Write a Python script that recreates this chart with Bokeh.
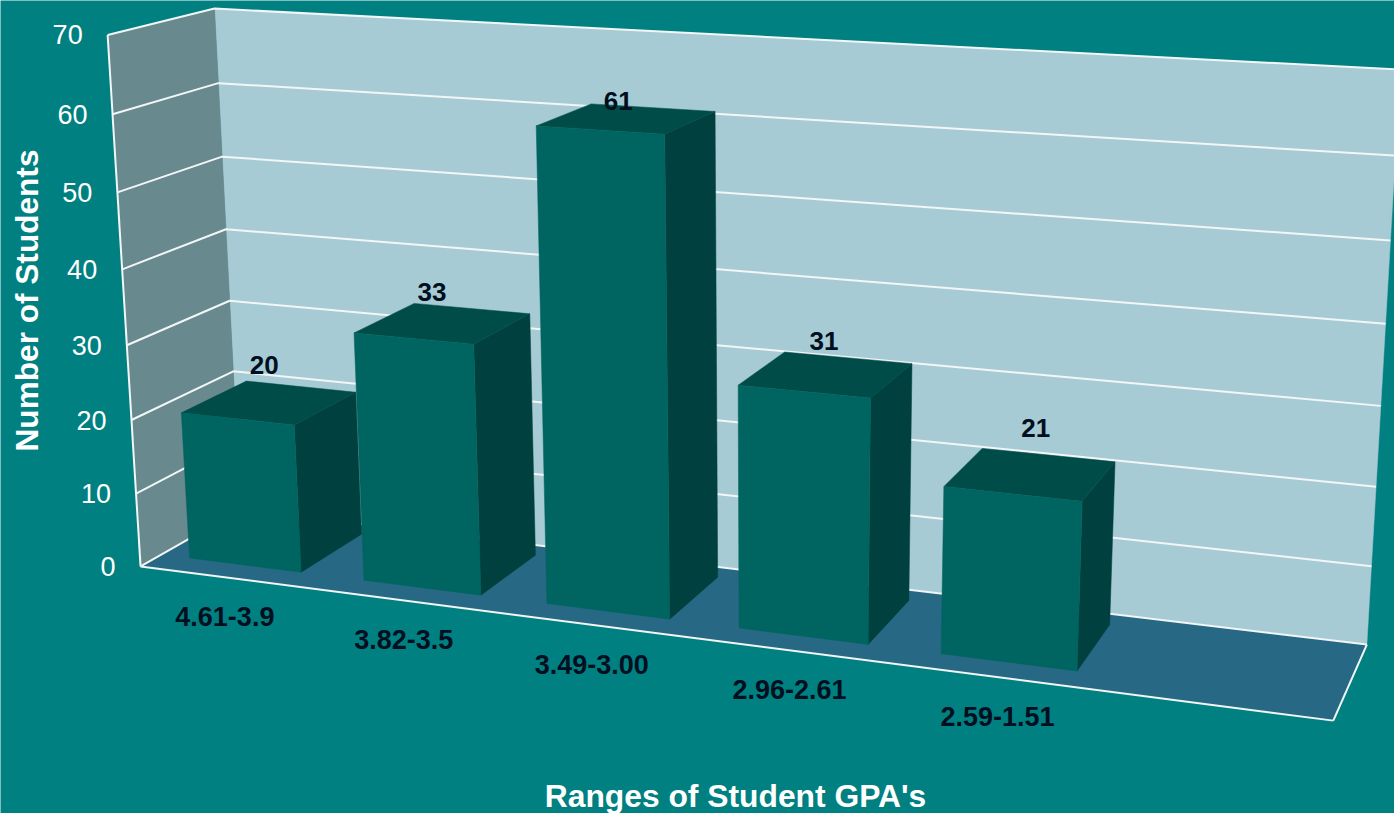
import numpy as np
from bokeh.plotting import figure
from bokeh.core.properties import value
from bokeh.embed import file_html
from bokeh.resources import INLINE

categories = ["4.61-3.9", "3.82-3.5", "3.49-3.00", "2.96-2.61", "2.59-1.51"]
students = [20, 33, 61, 31, 21]
y_ticks = [0, 10, 20, 30, 40, 50, 60, 70]
y_title = "Number of Students"
x_title = "Ranges of Student GPA's"

# layout: perspective calibration (u across, d depth, v/70 height) -> picture px
CAL = [((0, 0, 0), (140, 566)), ((1, 0, 0), (1333, 720)), ((1, 1, 0), (1366, 644)),
       ((0, 1, 0), (240, 510)), ((0, 0, 1), (107, 35)), ((0, 1, 1), (214, 8)),
       ((1, 1, 1), (1400, 69)), ((0, 0, 2/7), (131, 419)), ((0, 1, 2/7), (233, 370)),
       ((1, 1, 1/7), (1371, 566))]
rows = []
for (u, d, w), (x, y) in CAL:
    rows.append([u, d, w, 1, 0, 0, 0, 0, -x*u, -x*d, -x*w, -x])
    rows.append([0, 0, 0, 0, u, d, w, 1, -y*u, -y*d, -y*w, -y])
H = np.linalg.svd(np.array(rows, float))[2][-1].reshape(3, 4)

def proj(u, d, v):
    r = H @ np.array([u, d, v / 70.0, 1.0])
    return float(r[0] / r[2]), float(r[1] / r[2])

SLOTS = 6
BAR_W = 0.645
BAR_SHIFT = -0.012
D0, D1 = 0.20, 0.85
BG = "#008080"
DARK_TEXT = "#000F20"
VAL_NUDGE = [(-5, -39), (-11, -33), (-9, -19), (-3, -35), (4, -48)]

p = figure(width=1394, height=813, x_range=(0, 1394), y_range=(813, 0),
           output_backend="svg", toolbar_location=None, min_border=0,
           background_fill_color=BG, border_fill_color=BG, outline_line_color=None)
p.axis.visible = False
p.grid.visible = False

def poly(pts, color):
    xs, ys = zip(*pts)
    p.patch(list(xs), list(ys), fill_color=color, line_color=color, line_width=0.5)

poly([proj(0, 1, 0), proj(1, 1, 0), proj(1, 1, 70), proj(0, 1, 70)], "#A6CBD4")
poly([proj(0, 0, 0), proj(0, 1, 0), proj(0, 1, 70), proj(0, 0, 70)], "#688A8F")
poly([proj(0, 0, 0), proj(1, 0, 0), proj(1, 1, 0), proj(0, 1, 0)], "#276985")

gx, gy = [], []
for t in y_ticks:
    a, b, c = proj(0, 0, t), proj(0, 1, t), proj(1, 1, t)
    gx.append([a[0], b[0], c[0]])
    gy.append([a[1], b[1], c[1]])
edges = [[(0, 0, 0), (0, 0, 70)], [(0, 0, 0), (1, 0, 0)], [(1, 0, 0), (1, 1, 0)]]
for e in edges:
    a, b = proj(*e[0]), proj(*e[1])
    gx.append([a[0], b[0]])
    gy.append([a[1], b[1]])
p.multi_line(gx, gy, line_color="#F2F6F7", line_width=2)

for i, val in enumerate(students):
    u0 = (i + 0.5 + BAR_SHIFT - BAR_W / 2) / SLOTS
    u1 = (i + 0.5 + BAR_SHIFT + BAR_W / 2) / SLOTS
    poly([proj(u1, D0, 0), proj(u1, D1, 0), proj(u1, D1, val), proj(u1, D0, val)], "#00403E")
    poly([proj(u0, D0, val), proj(u1, D0, val), proj(u1, D1, val), proj(u0, D1, val)], "#004C48")
    poly([proj(u0, D0, 0), proj(u1, D0, 0), proj(u1, D0, val), proj(u0, D0, val)], "#006460")

FONT = value("Liberation Sans")
# y tick labels
tx, ty = zip(*[proj(0, 0, t) for t in y_ticks])
p.text([x - 25 for x in tx], list(ty), text=[str(t) for t in y_ticks], text_font=FONT,
       text_font_size="27px", text_color="#FFFFFF", text_align="right", text_baseline="middle")
# category labels
cx, cy = zip(*[proj((i + 0.5) / SLOTS, 0, 0) for i in range(len(categories))])
p.text([x - 2 for x in cx], [y + 39 for y in cy], text=categories, text_font=FONT,
       text_font_style="bold", text_font_size="27px", text_color=DARK_TEXT,
       text_align="center", text_baseline="middle")
# value labels
vx, vy = zip(*[proj((i + 0.5) / SLOTS, 0.5, v) for i, v in enumerate(students)])
p.text([x + n[0] for x, n in zip(vx, VAL_NUDGE)], [y + n[1] for y, n in zip(vy, VAL_NUDGE)],
       text=[str(v) for v in students], text_font=FONT,
       text_font_style="bold", text_font_size="26px", text_color=DARK_TEXT,
       text_align="center", text_baseline="middle")
p.text([26], [300], text=[y_title], text_font=FONT, text_font_style="bold", text_font_size="31.6px",
       text_color="#FFFFFF", text_align="center", text_baseline="middle", angle=np.pi / 2)
p.text([735], [795], text=[x_title], text_font=FONT, text_font_style="bold", text_font_size="31.8px",
       text_color="#FFFFFF", text_align="center", text_baseline="middle")

open("out.html", "w").write(file_html(p, INLINE))
